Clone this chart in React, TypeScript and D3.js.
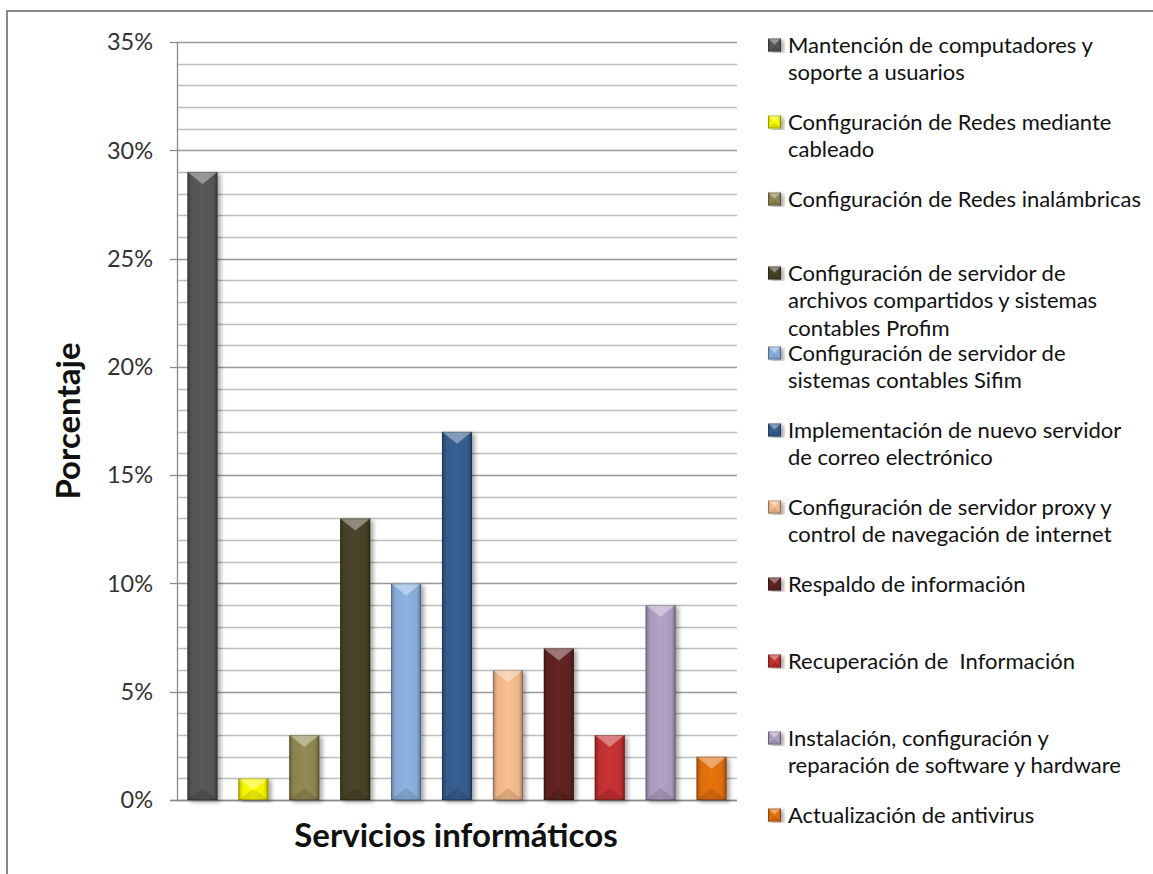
import React from "react";
import * as d3 from "d3";

const categories: string[][] = [
  ["Mantención de computadores y", "soporte a usuarios"],
  ["Configuración de Redes mediante", "cableado"],
  ["Configuración de Redes inalámbricas"],
  ["Configuración de servidor de", "archivos compartidos y sistemas", "contables Profim"],
  ["Configuración de servidor de", "sistemas contables Sifim"],
  ["Implementación de nuevo servidor", "de correo electrónico"],
  ["Configuración de servidor proxy y", "control de navegación de internet"],
  ["Respaldo de información"],
  ["Recuperación de  Información"],
  ["Instalación, configuración y", "reparación de software y hardware"],
  ["Actualización de antivirus"],
];
const values: number[] = [0.29, 0.01, 0.03, 0.13, 0.10, 0.17, 0.06, 0.07, 0.03, 0.09, 0.02];
const colors: string[] = [
  "#595959", "#FFFF00", "#948A54", "#4A452A", "#8DB4E2", "#376092",
  "#FAC090", "#632523", "#C83232", "#B3A2C7", "#E9730F",
];
const majorTicks: number[] = [0, 0.05, 0.1, 0.15, 0.2, 0.25, 0.3, 0.35];
const minorTicks: number[] = d3.range(0, 36).map((i) => i / 100);

const W = 1153;
const H = 874;
const plot = { left: 177, right: 737, top: 42, bottom: 800 };
const FONT = "Lato, 'Open Sans', sans-serif";

function Bevel({ x, y, w, h, color, bt }: { x: number; y: number; w: number; h: number; color: string; bt: number }) {
  const b = Math.max(0, Math.min(bt, h / 2.2));
  const inset = Math.min(w / 2, b * 1.25);
  const top = `${x},${y} ${x + w},${y} ${x + w - inset},${y + b} ${x + inset},${y + b}`;
  const bot = `${x},${y + h} ${x + w},${y + h} ${x + w - inset},${y + h - b} ${x + inset},${y + h - b}`;
  return (
    <g>
      <rect x={x} y={y} width={w} height={h} fill={color} />
      <rect x={x} y={y} width={w} height={h} fill="url(#sideShade)" />
      <polygon points={top} fill="#fff" opacity={0.38} />
      <polygon points={bot} fill="#000" opacity={0.12} />
      <rect x={x + 0.5} y={y + 0.5} width={Math.max(0, w - 1)} height={Math.max(0, h - 1)} fill="none" stroke="#000" strokeOpacity={0.22} />
    </g>
  );
}

export default function App() {
  const x = d3
    .scaleBand<number>()
    .domain(d3.range(values.length))
    .range([plot.left, plot.right])
    .paddingInner(0.41)
    .paddingOuter(0.205);
  const y = d3.scaleLinear().domain([0, 0.35]).range([plot.bottom, plot.top]);
  const fmt = d3.format(".0%");
  const legendY = d3.scaleLinear().domain([0, 1]).range([45, 122]);

  return (
    <svg
      width={W}
      height={H}
      style={{ position: "absolute", left: 0, top: 0, background: "#fff" }}
      fontFamily={FONT}
    >
      <defs>
        <linearGradient id="sideShade" x1="0" x2="1" y1="0" y2="0">
          <stop offset="0" stopColor="#000" stopOpacity={0.3} />
          <stop offset="0.14" stopColor="#000" stopOpacity={0.06} />
          <stop offset="0.5" stopColor="#000" stopOpacity={0} />
          <stop offset="0.86" stopColor="#000" stopOpacity={0.06} />
          <stop offset="1" stopColor="#000" stopOpacity={0.34} />
        </linearGradient>
        <filter id="shadow" x="-30%" y="-10%" width="160%" height="120%">
          <feDropShadow dx={3} dy={2} stdDeviation={2} floodColor="#000" floodOpacity={0.35} />
        </filter>
      </defs>
      <rect x={0} y={0} width={W} height={H} fill="#fff" />
      <rect x={7} y={11} width={W + 20} height={H + 20} fill="none" stroke="#898989" strokeWidth={2} />

      {/* gridlines */}
      {minorTicks.map((t, i) => (
        <line
          key={"g" + i}
          x1={plot.left}
          x2={plot.right}
          y1={Math.round(y(t)) + 0.5}
          y2={Math.round(y(t)) + 0.5}
          stroke={i % 5 === 0 ? "#9a9a9a" : "#bdbdbd"}
          strokeWidth={1.3}
        />
      ))}
      {/* axes */}
      <line x1={plot.left + 0.5} x2={plot.left + 0.5} y1={plot.top} y2={plot.bottom} stroke="#8a8a8a" strokeWidth={1.3} />
      <line x1={plot.left - 7} x2={plot.right} y1={plot.bottom + 0.5} y2={plot.bottom + 0.5} stroke="#8a8a8a" strokeWidth={1.5} />
      {majorTicks.map((t, i) => (
        <g key={"t" + i}>
          <line x1={plot.left - 7} x2={plot.left} y1={Math.round(y(t)) + 0.5} y2={Math.round(y(t)) + 0.5} stroke="#8a8a8a" strokeWidth={1.3} />
          <text x={153} y={y(t)} dy="0.35em" textAnchor="end" fontSize={23.5} fill="#333">
            {fmt(t)}
          </text>
        </g>
      ))}

      {/* bars */}
      {values.map((v, i) => (
        <g key={"b" + i} filter="url(#shadow)">
          <Bevel x={x(i)!} y={y(v)} w={x.bandwidth()} h={y(0) - y(v)} color={colors[i]} bt={12} />
        </g>
      ))}

      {/* axis titles */}
      <text x={456} y={847} textAnchor="middle" fontSize={33} fontWeight="bold" fill="#111">
        Servicios informáticos
      </text>
      <text
        transform={`translate(80, 421) rotate(-90)`}
        textAnchor="middle"
        fontSize={33}
        fontWeight="bold"
        fill="#111"
      >
        Porcentaje
      </text>

      {/* legend */}
      {categories.map((lines, i) => {
        const cy = legendY(i) - (lines.length === 3 ? 3 : 0);
        return (
          <g key={"l" + i}>
            <g filter="url(#shadow)">
              <Bevel x={768} y={cy - 6.5} w={13} h={13} color={colors[i]} bt={6} />
            </g>
            {lines.map((ln, j) => (
              <text key={j} x={788} y={cy + j * 27.5} dy="0.35em" fontSize={22} fill="#111" style={{ whiteSpace: "pre" }}>
                {ln}
              </text>
            ))}
          </g>
        );
      })}
    </svg>
  );
}
